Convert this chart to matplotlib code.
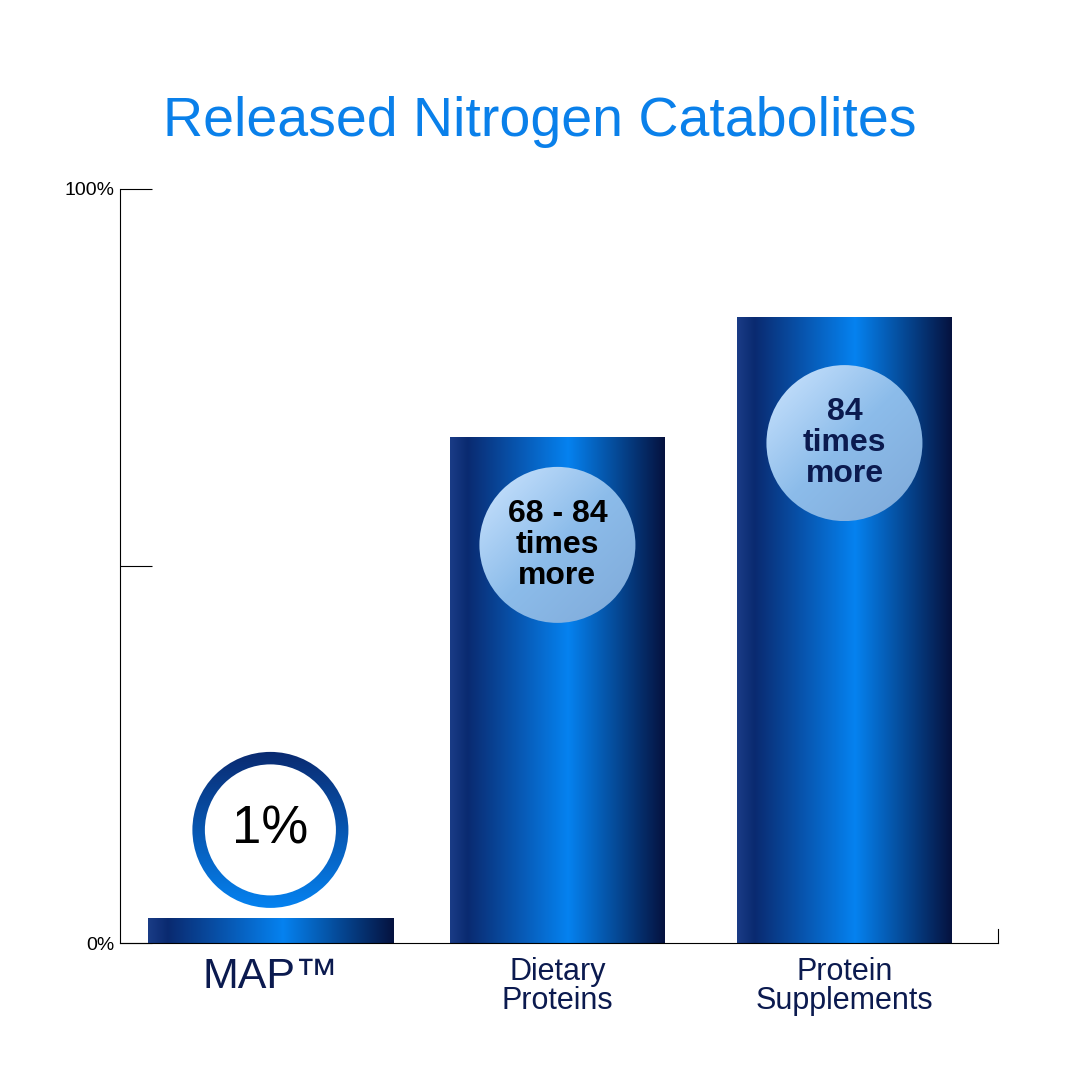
import numpy as np
import matplotlib
matplotlib.use("Agg")
import matplotlib.pyplot as plt
from matplotlib.colors import LinearSegmentedColormap
from matplotlib.patches import Ellipse

plt.rcParams['font.family'] = ['Liberation Sans', 'DejaVu Sans']

# ─── Data ────────────────────────────────────────────────────────────────────
categories = ["MAP\u2122", "Dietary\nProteins", "Protein\nSupplements"]
values = [3.3, 67.1, 83.0]
bubble_texts = ["1%", "68 - 84\ntimes\nmore", "84\ntimes\nmore"]
bubble_y = [15.0, 52.8, 66.3]
ytick_vals = [0, 50, 100]
ytick_labels = ["0%", "", "100%"]

# ─── Styles ──────────────────────────────────────────────────────────────────
bar_cmap = LinearSegmentedColormap.from_list(
    "bar", [(0, "#1a3c86"), (0.08, "#0a2a70"), (0.55, "#0582f0"), (1, "#06123f")])
bubble_cmap = LinearSegmentedColormap.from_list("bub", ["#cfe6ff", "#8cbcea", "#7fa9d8"])
ring_cmap = LinearSegmentedColormap.from_list("ring", ["#0a2a70", "#0582f0"])
widths = [0.854, 0.749, 0.749]

fig = plt.figure(figsize=(10.8, 10.8), dpi=100)
ax = fig.add_axes([120 / 1080, 137 / 1080, 878 / 1080, 754 / 1080])
ax.set_xlim(-0.524, 2.535)
ax.set_ylim(0, 100)

grad = np.linspace(0, 1, 256).reshape(1, -1)
for i, (v, w) in enumerate(zip(values, widths)):
    ax.imshow(grad, cmap=bar_cmap, extent=[i - w / 2, i + w / 2, 0, v],
              aspect="auto", zorder=2)

# bubbles: ellipses in data coords that look round in pixels
px_x = 287.0          # pixels per category unit
px_y = 7.54           # pixels per percent
r = 78
diag = np.add.outer(np.linspace(0, 1, 200), np.linspace(0, 1, 200)) / 2
for i, (t, by) in enumerate(zip(bubble_texts, bubble_y)):
    ew, eh = 2 * r / px_x, 2 * r / px_y
    ext = [i - ew / 2, i + ew / 2, by - eh / 2, by + eh / 2]
    if i == 0:
        ring = Ellipse((i, by), ew, eh, transform=ax.transData)
        img = ax.imshow(np.linspace(0, 1, 200).reshape(-1, 1), cmap=ring_cmap,
                        extent=ext, aspect="auto", zorder=3)
        img.set_clip_path(ring)
        inner = Ellipse((i, by), ew * 0.84, eh * 0.84, facecolor="white",
                        edgecolor="none", zorder=4)
        ax.add_patch(inner)
        ax.text(i, by, t, ha="center", va="center", fontsize=38,
                color="black", zorder=5)
    else:
        circ = Ellipse((i, by), ew, eh, transform=ax.transData)
        img = ax.imshow(diag, cmap=bubble_cmap, extent=ext, aspect="auto", zorder=3)
        img.set_clip_path(circ)
        ax.text(i, by, t, ha="center", va="center", fontsize=23, fontweight="bold",
                color="black" if i == 1 else "#0b1a4f", linespacing=1.05, zorder=5)

# ─── Axes ────────────────────────────────────────────────────────────────────
for s in ["top", "right"]:
    ax.spines[s].set_visible(False)
for s in ["left", "bottom"]:
    ax.spines[s].set_linewidth(0.8)
ax.set_yticks(ytick_vals)
ax.set_yticklabels(ytick_labels, fontsize=14)
ax.tick_params(axis="y", direction="in", length=23, width=0.8, pad=4)
ax.set_xticks(range(len(categories)))
ax.set_xticklabels(categories, fontsize=22, color="#0b1a4f", linespacing=0.95)
ax.get_xticklabels()[0].set_fontsize(31)
ax.tick_params(axis="x", length=0, pad=10)
ax.plot([1, 1], [0, 0.018], transform=ax.transAxes, color="black", lw=0.8,
        clip_on=False)

fig.text(0.5, 1 - 122 / 1080, "Released Nitrogen Catabolites", ha="center",
         va="center", fontsize=40, color="#0a80ea")

fig.savefig("out.png", dpi=100, facecolor="white")
